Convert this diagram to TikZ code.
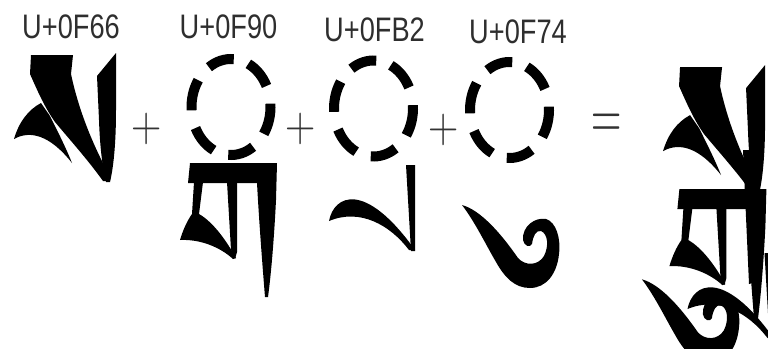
\documentclass[tikz,border=0pt]{standalone}
\usepackage{fontspec}
\usepackage{graphicx}
\newfontfamily\labfont[FakeStretch=0.8]{Liberation Sans}
\begin{document}
\begin{tikzpicture}[x=1pt,y=-1pt,
  dashseg/.style={draw=black,line width=10pt},
  lab/.style={font=\labfont\fontsize{34}{34}\selectfont, text=black!82, inner sep=0pt},
  op/.style={font=\fontsize{42}{42}\selectfont, text=black!80, inner sep=0pt},
  gsa/.pic={
    \fill (31,55) -- (73,55) -- (71,74) .. controls (76,98) and (86,130) .. (104,165) -- (110,181) -- (103,181)
      .. controls (88,160) and (70,140) .. (55,122) .. controls (45,108) and (38,92) .. (30,74) -- cycle;
    \fill (41,103) .. controls (28,110) and (19,122) .. (14,139) .. controls (30,130) and (50,135) .. (72,163)
      .. controls (66,148) and (58,132) .. (50,116) -- cycle;
    \fill (116,53) -- (97,76) -- (99,120) .. controls (100,150) and (103,170) .. (106,182) -- (110,182)
      .. controls (114,165) and (116,140) .. (116,110) -- cycle;
  },
  gka/.pic={
    \fill (190,163) -- (277,163) -- (276,200) .. controls (274,240) and (271,275) .. (268,297) -- (265,297)
      .. controls (262,260) and (259,220) .. (257,183) -- (188,183) -- cycle;
    \fill (194,182) -- (203,182) -- (199,214) .. controls (213,222) and (226,240) .. (236,258) -- (233,259)
      .. controls (220,247) and (200,239) .. (180,240) .. controls (183,230) and (187,221) .. (192,214) -- cycle;
    \fill (227,182) -- (237,182) -- (237,252) -- (235,259) -- (231,250) -- cycle;
  },
  gra/.pic={
    \fill (406,165) -- (415,165) -- (415,251) -- (411,251) -- cycle;
    \fill (329,221) .. controls (334,195) and (365,180) .. (415,250) -- (409,250)
      .. controls (390,225) and (360,208) .. (329,221) -- cycle;
  },
  gu/.pic={
    \fill (462,205) .. controls (480,210) and (500,232) .. (518,258)
      .. controls (525,266) and (538,266) .. (544,256)
      .. controls (549,246) and (548,234) .. (541,231)
      .. controls (536,230) and (533,236) .. (532,244)
      .. controls (530,248) and (524,246) .. (523,240)
      .. controls (522,226) and (535,217) .. (546,219)
      .. controls (556,222) and (561,238) .. (559,254)
      .. controls (557,274) and (546,288) .. (530,288)
      .. controls (515,288) and (505,278) .. (496,262)
      .. controls (486,245) and (475,222) .. (462,205) -- cycle;
  }]
\fill[white] (0,0) rectangle (768,348);
\useasboundingbox (0,0) rectangle (768,348);

% code point labels
\node[lab] (l66) at (71,26.5) {U+0F66};
\node[lab] (l90) at (228.5,26.5) {U+0F90};
\node[lab] (lB2) at (374.5,30) {U+0FB2};
\node[lab] (l74) at (518,31.5) {U+0F74};

% operators
\node[op] (p1) at (147,129) {\scalebox{1}[1.2]{+}};
\node[op] (p2) at (301,129) {\scalebox{1}[1.2]{+}};
\node[op] (p3) at (444,130) {\scalebox{1}[1.2]{+}};
\node[op] (eq) at (607,126.7) {\scalebox{1}[1.7]{=}};

% dotted circles (placeholders for the base)
\foreach \cx/\cy [count=\i] in {231/107, 373.5/108.5, 509.5/110} {
  \coordinate (c\i) at (\cx,\cy);
  \foreach \a in {-105,-45,15,75,135,-165} {
    \pgfmathsetmacro\sa{\a-19}
    \pgfmathsetmacro\ea{\a+19}
    \draw[dashseg] (c\i) ++(\sa:39.5 and 48) arc[start angle=\sa, end angle=\ea, x radius=39.5, y radius=48];
  }
}

% individual glyphs
\pic {gsa};
\pic {gka};
\pic {gra};
\pic {gu};

% combined stack
\begin{scope}[shift={(649.05,12.1)},xscale=0.93,yscale=0.78]
  \pic {gsa};
\end{scope}
\begin{scope}[shift={(489.4,26.12)},xscale=0.97,yscale=0.76]
  \pic {gka};
\end{scope}
\fill (743,150) -- (758,150) -- (756,282) -- (749,284) -- cycle;
\begin{scope}[shift={(358.5,88)},xscale=0.95,yscale=0.75]
  \pic {gra};
\end{scope}
\begin{scope}[shift={(179.9,74.3)},xscale=1.05,yscale=0.95]
  \pic {gu};
\end{scope}
\end{tikzpicture}
\end{document}
